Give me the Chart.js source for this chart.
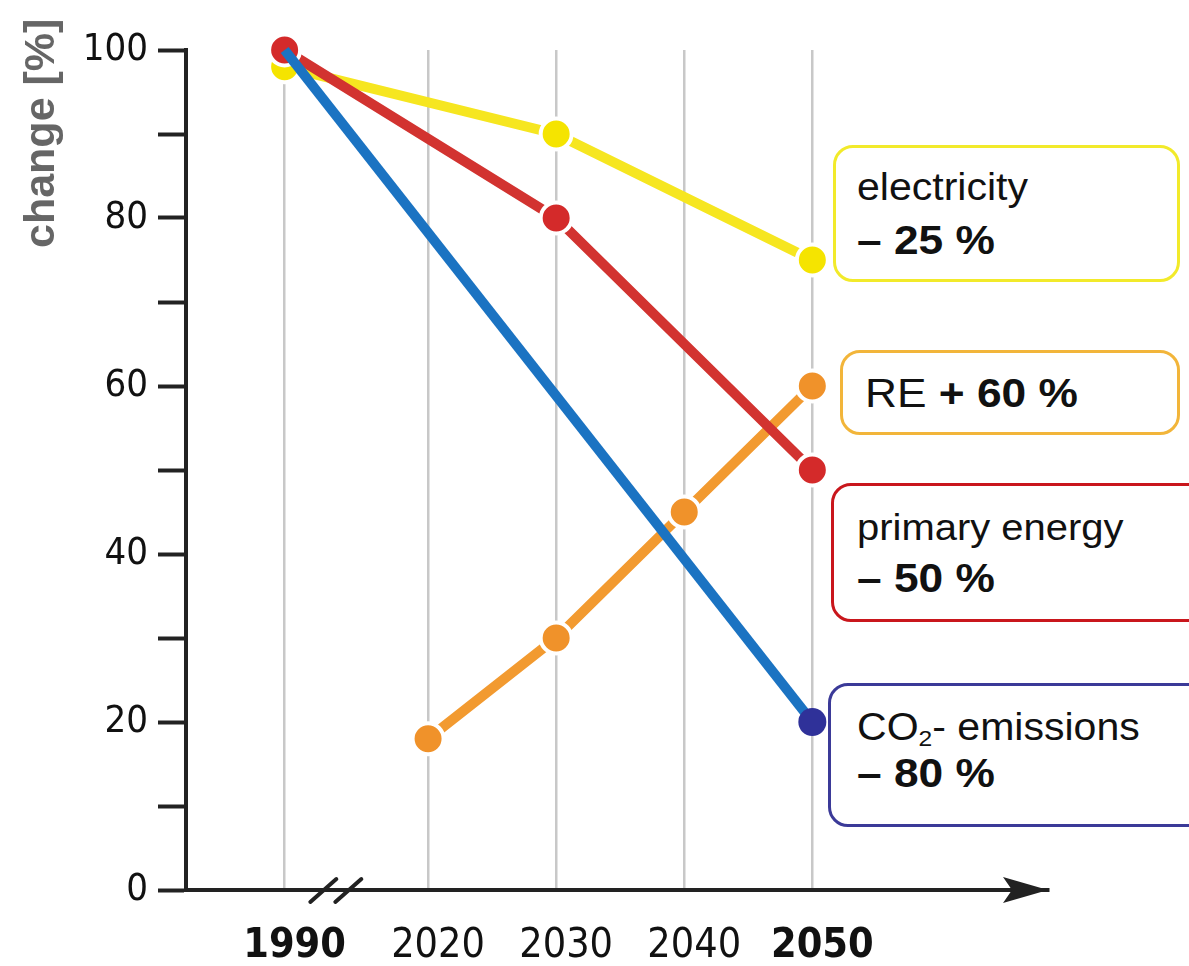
<!DOCTYPE html>
<html lang="en">
<head>
    <meta charset="UTF-8">
    <title>Change 1990 - 2050</title>
    <style>
        body {
            margin: 0;
            background: #fff;
            overflow: hidden;
        }
        .wrap {
            position: relative;
            width: 1189px;
            height: 966px;
            overflow: hidden;
        }
        .ytitle {
            position: absolute;
            left: 18px;
            top: 248px;
            transform: rotate(-90deg);
            transform-origin: left top;
            font-family: "Liberation Sans", Arial, sans-serif;
            font-weight: bold;
            font-size: 43px;
            line-height: 1;
            color: #666;
            white-space: nowrap;
        }
        .box {
            position: absolute;
            box-sizing: border-box;
            border: 3.5px solid;
            border-radius: 20px;
            background: #fff;
        }
        .t {
            position: absolute;
            line-height: 1;
            white-space: nowrap;
            font-family: "Liberation Sans", Arial, sans-serif;
            color: #111;
            transform: scaleX(1.08);
            transform-origin: left center;
        }
        .t b { font-weight: bold; }
        .t sub { font-size: 60%; vertical-align: -0.25em; line-height: 0; }
    </style>
    <script src="https://cdn.jsdelivr.net/npm/chart.js"></script>
</head>
<body>
<div class="wrap">
    <canvas id="chart" width="1189" height="966"></canvas>
    <div class="ytitle">change [%]</div>

    <div class="box" style="border-color:#f2ea2a; left:833px; top:145px; width:347px; height:137px;"></div>
    <div class="t" style="left:857px; top:168px; font-size:38px;">electricity</div>
    <div class="t" style="left:857px; top:220px; font-size:41px;"><b>– 25 %</b></div>

    <div class="box" style="border-color:#f2b53a; left:840px; top:350px; width:340px; height:85px;"></div>
    <div class="t" style="left:865px; top:373px; font-size:41px;">RE <b>+ 60 %</b></div>

    <div class="box" style="border-color:#c9161c; left:831px; top:483px; width:400px; height:139px;"></div>
    <div class="t" style="left:857px; top:509px; font-size:37px;">primary energy</div>
    <div class="t" style="left:857px; top:558px; font-size:41px;"><b>– 50 %</b></div>

    <div class="box" style="border-color:#3b3a98; left:828px; top:683px; width:400px; height:144px;"></div>
    <div class="t" style="left:857px; top:708px; font-size:38px;">CO<sub>2</sub>- emissions</div>
    <div class="t" style="left:857px; top:753px; font-size:41px;"><b>– 80 %</b></div>
</div>
<script>
    // values (percent of 1990)
    const tickYears = [1990, 2020, 2030, 2040, 2050];
    const boldYears = [1990, 2050];

    const co2Years = [1990, 2050];
    const co2Values = [100, 20];

    const primaryYears = [1990, 2030, 2050];
    const primaryValues = [100, 80, 50];

    const reYears = [2020, 2030, 2040, 2050];
    const reValues = [18, 30, 45, 60];

    const electricityYears = [1990, 2030, 2050];
    const electricityValues = [98, 90, 75];

    // the x axis is broken between 1990 and 2020
    const breakShift = 18.8;
    function toAxis(year) {
        return year < 2000 ? year + breakShift : year;
    }

    function points(years, values) {
        return years.map((yr, i) => ({ x: toAxis(yr), y: values[i] }));
    }

    const tickFont = 'DejaVu Sans Condensed, DejaVu Sans, sans-serif';

    const axisDecor = {
        id: 'axisDecor',
        afterDraw(chart) {
            const { ctx, chartArea, scales } = chart;
            const x = scales.x;
            const yb = scales.y.getPixelForValue(0);
            ctx.save();
            ctx.fillStyle = '#222';
            ctx.strokeStyle = '#222';

            // arrow head at the end of the x axis
            const tip = chartArea.right;
            ctx.beginPath();
            ctx.moveTo(tip, yb);
            ctx.lineTo(tip - 45, yb - 13);
            ctx.lineTo(tip - 36, yb);
            ctx.lineTo(tip - 45, yb + 13);
            ctx.closePath();
            ctx.fill();

            // break marks //
            const p0 = x.getPixelForValue(toAxis(1990));
            const p1 = x.getPixelForValue(2020);
            const bx = p0 + 0.357 * (p1 - p0);
            ctx.lineWidth = 4;
            ctx.lineCap = 'round';
            [-12.5, 12.5].forEach(off => {
                ctx.beginPath();
                ctx.moveTo(bx + off - 13, yb + 12);
                ctx.lineTo(bx + off + 13, yb - 11);
                ctx.stroke();
            });
            ctx.restore();
        }
    };

    const markerStyle = {
        pointRadius: 15.5,
        pointBorderWidth: 4,
        pointBorderColor: '#fff',
        pointHoverRadius: 15.5,
        borderWidth: 10,
        clip: false,
        tension: 0
    };

    new Chart(document.getElementById('chart'), {
        type: 'line',
        data: {
            datasets: [
                {
                    label: 'CO2 emissions',
                    data: points(co2Years, co2Values),
                    borderColor: '#1b73c2',
                    borderWidth: 10,
                    pointRadius: [0, 14],
                    pointBorderWidth: 0,
                    pointBackgroundColor: '#2f3199',
                    clip: false
                },
                Object.assign({
                    label: 'primary energy',
                    data: points(primaryYears, primaryValues),
                    borderColor: '#d23330',
                    pointBackgroundColor: '#d42a2a'
                }, markerStyle),
                Object.assign({
                    label: 'RE',
                    data: points(reYears, reValues),
                    borderColor: '#f29a30',
                    pointBackgroundColor: '#f0922a'
                }, markerStyle),
                Object.assign({
                    label: 'electricity',
                    data: points(electricityYears, electricityValues),
                    borderColor: '#f6e620',
                    pointBackgroundColor: '#f5e400'
                }, markerStyle)
            ]
        },
        options: {
            responsive: false,
            animation: false,
            layout: { padding: { left: 0, top: 50, right: 141, bottom: 0 } },
            plugins: {
                legend: { display: false },
                tooltip: { enabled: false }
            },
            scales: {
                x: {
                    type: 'linear',
                    min: 2001.1,
                    max: 2068.4,
                    afterFit(scale) { scale.height = 76; },
                    afterBuildTicks(scale) {
                        scale.ticks = tickYears.map(yr => ({ value: toAxis(yr) }));
                    },
                    grid: {
                        color: '#c8c8c8',
                        lineWidth: 2.5,
                        drawTicks: false
                    },
                    border: { display: true, color: '#222', width: 4 },
                    ticks: {
                        autoSkip: false,
                        maxRotation: 0,
                        padding: 32,
                        labelOffset: 10,
                        color: '#111',
                        font: ctx => ({
                            family: tickFont,
                            size: 41,
                            weight: boldYears.includes(tickYears[ctx.index]) ? 'bold' : 'normal'
                        }),
                        callback: (value, index) => String(tickYears[index])
                    }
                },
                y: {
                    min: 0,
                    max: 100,
                    afterFit(scale) { scale.width = 186; },
                    grid: {
                        drawOnChartArea: false,
                        drawTicks: true,
                        tickLength: 28,
                        tickColor: '#222',
                        tickWidth: 4
                    },
                    border: { display: true, color: '#222', width: 4 },
                    ticks: {
                        stepSize: 10,
                        padding: 10,
                        color: '#111',
                        font: { family: tickFont, size: 38 },
                        callback: v => (v % 20 === 0 ? v : '')
                    }
                }
            }
        },
        plugins: [axisDecor]
    });
</script>
</body>
</html>
